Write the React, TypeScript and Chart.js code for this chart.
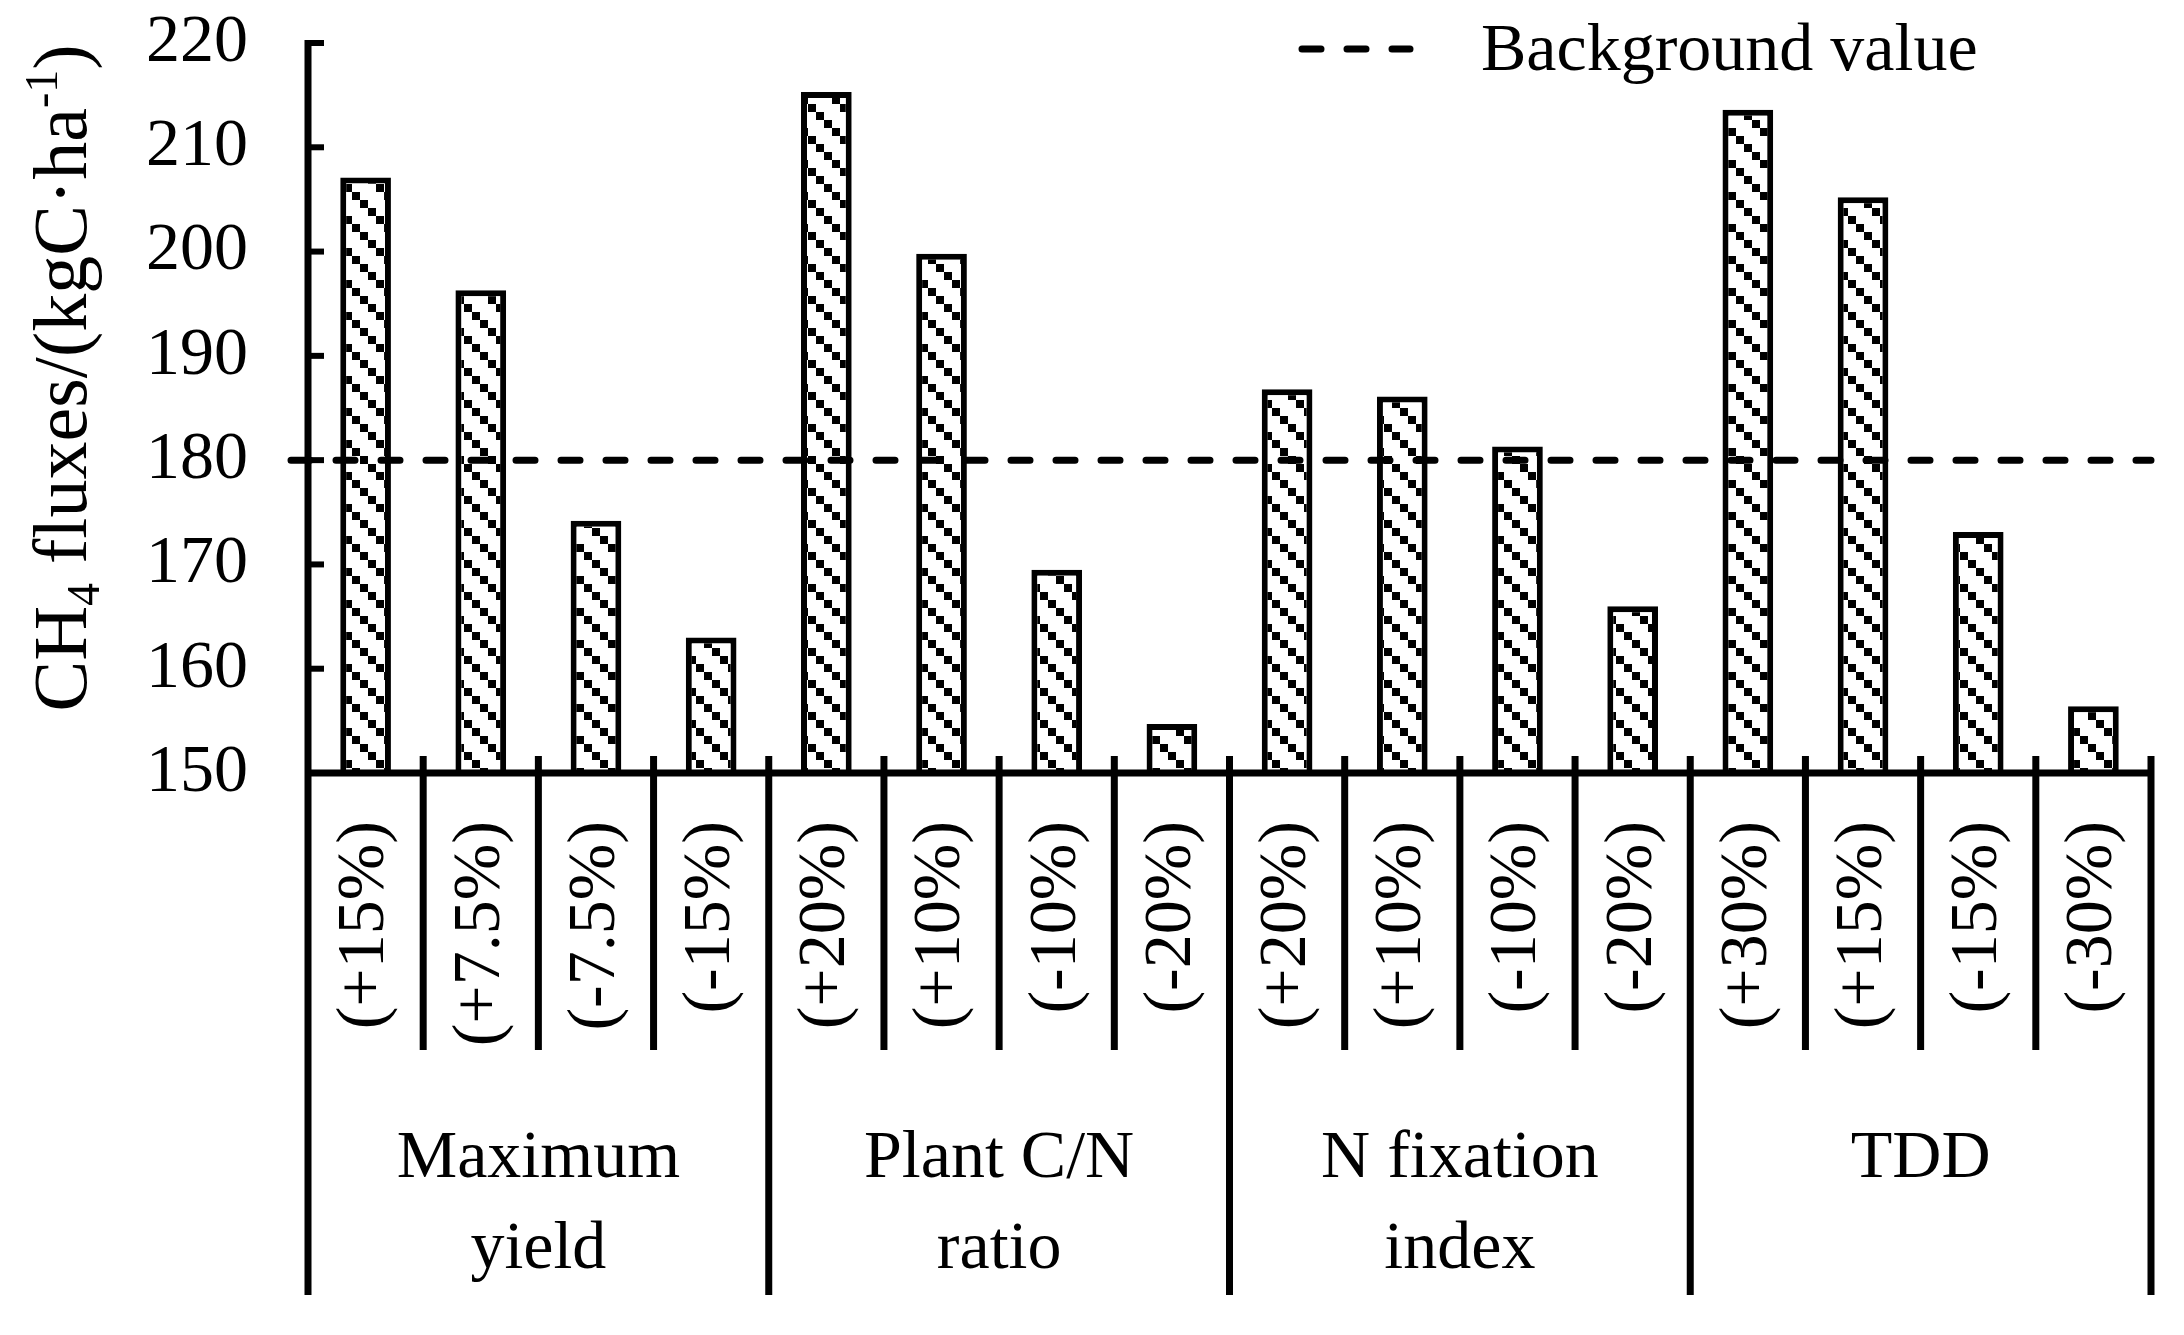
import React, { useEffect, useRef } from 'react';
import { Chart, registerables } from 'chart.js';

Chart.register(...registerables);

const CATEGORIES = [
  '(+15%)', '(+7.5%)', '(-7.5%)', '(-15%)',
  '(+20%)', '(+10%)', '(-10%)', '(-20%)',
  '(+20%)', '(+10%)', '(-10%)', '(-20%)',
  '(+30%)', '(+15%)', '(-15%)', '(-30%)',
];
const GROUPS = [
  ['Maximum', 'yield'],
  ['Plant C/N', 'ratio'],
  ['N fixation', 'index'],
  ['TDD'],
];
const GROUP_SIZE = 4;
const CH4_FLUX = [
  207.1, 196.3, 174.2, 163.0,
  215.3, 199.8, 169.5, 154.7,
  186.8, 186.1, 181.3, 166.0,
  213.6, 205.2, 173.1, 156.4,
];
const BACKGROUND_VALUE = 180;
const Y_MIN = 150;
const Y_MAX = 220;
const Y_STEP = 10;
const LEGEND_LABEL = 'Background value';
const Y_TITLE_PARTS = [
  { text: 'CH', kind: 'normal' },
  { text: '4', kind: 'sub' },
  { text: ' fluxes/(kgC\u00B7ha', kind: 'normal' },
  { text: '-1', kind: 'sup' },
  { text: ')', kind: 'normal' },
];

const FONT_FAMILY = '"Liberation Serif", "Times New Roman", serif';
const FONT_SIZE = 68;
const TITLE_SIZE = 76;

function makePattern(): CanvasPattern | string {
  const c = document.createElement('canvas');
  c.width = 32;
  c.height = 32;
  const g = c.getContext('2d');
  if (!g) return '#888';
  g.fillStyle = '#fff';
  g.fillRect(0, 0, 32, 32);
  g.fillStyle = '#000';
  for (let i = 0; i < 4; i++) g.fillRect(i * 8, i * 8, 8, 8);
  return g.createPattern(c, 'repeat') || '#888';
}

const overlayPlugin = {
  id: 'overlay',
  afterDraw(chart: any) {
    const { ctx, chartArea, scales } = chart;
    const x = scales.x;
    const y = scales.y;
    const { left, right, top, bottom } = chartArea;
    const n = CATEGORIES.length;
    const groupBottom = bottom + 522;
    const minorBottom = bottom + 277;
    const line = (x1: number, y1: number, x2: number, y2: number) => {
      ctx.beginPath();
      ctx.moveTo(x1, y1);
      ctx.lineTo(x2, y2);
      ctx.stroke();
    };
    ctx.save();
    ctx.strokeStyle = '#000';
    ctx.fillStyle = '#000';

    // background value dashed line
    const yb = y.getPixelForValue(BACKGROUND_VALUE);
    ctx.lineWidth = 7;
    ctx.lineCap = 'round';
    ctx.setLineDash([19, 26]);
    line(left - 17, yb, right, yb);
    ctx.setLineDash([]);
    ctx.lineCap = 'butt';

    // y axis (continues down as left group separator)
    ctx.lineWidth = 7;
    line(left, top - 3, left, groupBottom);
    // y ticks (inside)
    ctx.lineWidth = 6;
    for (let v = Y_MIN + Y_STEP; v <= Y_MAX; v += Y_STEP) {
      const py = y.getPixelForValue(v);
      line(left, py, left + 16, py);
    }
    // x axis
    ctx.lineWidth = 7;
    line(left - 3, bottom, right + 3, bottom);
    // category boundaries
    for (let i = 1; i <= n; i++) {
      const px = x.getPixelForValue(i - 0.5);
      const isGroup = i % GROUP_SIZE === 0;
      ctx.lineWidth = 7;
      line(px, bottom - 17, px, isGroup ? groupBottom : minorBottom);
    }

    // group labels
    ctx.font = `${FONT_SIZE}px ${FONT_FAMILY}`;
    ctx.textAlign = 'center';
    ctx.textBaseline = 'alphabetic';
    GROUPS.forEach((lines, g) => {
      const cx = x.getPixelForValue(g * GROUP_SIZE + (GROUP_SIZE - 1) / 2);
      lines.forEach((t, k) => {
        ctx.fillText(t, cx, bottom + 404 + k * 91);
      });
    });

    // legend
    ctx.lineWidth = 7;
    ctx.lineCap = 'round';
    ctx.setLineDash([19, 26]);
    line(1302, 49, 1410, 49);
    ctx.setLineDash([]);
    ctx.lineCap = 'butt';
    ctx.textAlign = 'left';
    ctx.fillText(LEGEND_LABEL, 1481, 70);

    // y axis title (rotated, with sub/superscript)
    const small = Math.round(TITLE_SIZE * 0.6);
    const fontFor = (kind: string) => `${kind === 'normal' ? TITLE_SIZE : small}px ${FONT_FAMILY}`;
    let total = 0;
    const widths = Y_TITLE_PARTS.map((p) => {
      ctx.font = fontFor(p.kind);
      const w = ctx.measureText(p.text).width;
      total += w;
      return w;
    });
    ctx.translate(61, 378);
    ctx.rotate(-Math.PI / 2);
    ctx.textAlign = 'left';
    ctx.textBaseline = 'alphabetic';
    let cur = -total / 2;
    const baseY = 25;
    Y_TITLE_PARTS.forEach((p, i) => {
      ctx.font = fontFor(p.kind);
      const dy = p.kind === 'sub' ? 13 : p.kind === 'sup' ? -29 : 0;
      ctx.fillText(p.text, cur, baseY + dy);
      cur += widths[i];
    });
    ctx.restore();
  },
};

export default function App() {
  const ref = useRef<HTMLCanvasElement>(null);
  useEffect(() => {
    if (!ref.current) return;
    const pattern = makePattern();
    const chart = new Chart(ref.current, {
      type: 'bar',
      data: {
        labels: CATEGORIES,
        datasets: [
          {
            label: 'CH4 fluxes',
            data: CH4_FLUX,
            backgroundColor: pattern as any,
            borderColor: '#000',
            borderWidth: 6,
            barPercentage: 0.44,
            categoryPercentage: 1,
          },
        ],
      },
      options: {
        responsive: false,
        animation: false,
        devicePixelRatio: 1,
        layout: { padding: { top: 43, right: 33, left: 0, bottom: 0 } },
        plugins: {
          legend: { display: false },
          tooltip: { enabled: false },
        },
        scales: {
          x: {
            type: 'category',
            offset: true,
            grid: { display: false, drawTicks: false },
            border: { display: false },
            ticks: {
              autoSkip: false,
              minRotation: 90,
              maxRotation: 90,
              padding: 48,
              color: '#000',
              font: { family: FONT_FAMILY, size: FONT_SIZE },
            },
            afterFit: (s: any) => {
              s.height = 562;
              s.paddingLeft = 0;
              s.paddingRight = 0;
              s.paddingTop = 0;
              s.paddingBottom = 0;
            },
          },
          y: {
            min: Y_MIN,
            max: Y_MAX,
            grid: { display: false, drawTicks: false },
            border: { display: false },
            ticks: {
              stepSize: Y_STEP,
              padding: 60,
              color: '#000',
              font: { family: FONT_FAMILY, size: FONT_SIZE },
            },
            afterFit: (s: any) => {
              s.width = 308;
              s.paddingLeft = 0;
              s.paddingRight = 0;
              s.paddingTop = 0;
              s.paddingBottom = 0;
            },
          },
        },
      },
      plugins: [overlayPlugin],
    });
    return () => chart.destroy();
  }, []);
  return (
    <div style={{ position: 'absolute', left: 0, top: 0, width: 2184, height: 1335, background: '#fff' }}>
      <canvas ref={ref} width={2184} height={1335} style={{ display: 'block' }} />
    </div>
  );
}
